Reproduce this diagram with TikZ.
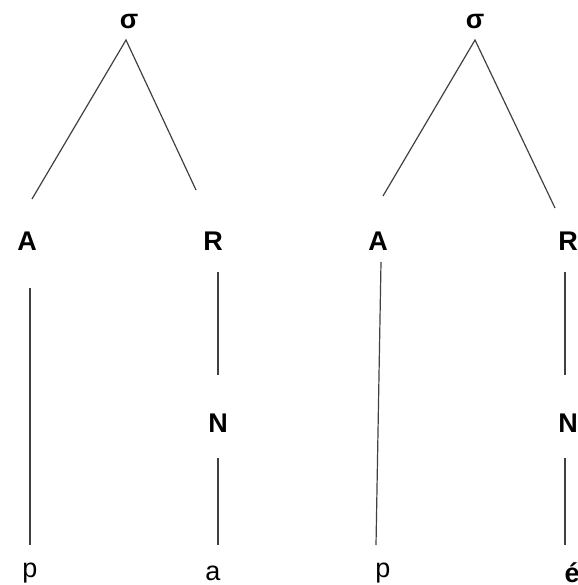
\documentclass[tikz,border=0pt]{standalone}
\usepackage{fontspec}
\setmainfont{Liberation Sans}
\begin{document}
\begin{tikzpicture}[x=1pt,y=-1pt,
  lab/.style={font=\fontsize{27}{30}\selectfont\bfseries, inner sep=0pt},
  leaf/.style={font=\fontsize{27}{30}\selectfont, inner sep=0pt},
  branch/.style={draw=black!75, line width=1.2pt}]
\useasboundingbox (0,0) rectangle (577,585);
% left tree
\node[lab] (s1) at (129,22) {σ};
\node[lab] (A1) at (27,241) {A};
\node[lab] (R1) at (213,241) {R};
\node[lab] (N1) at (218,423) {N};
\node[leaf] (p1) at (30,573) {p};
\node[leaf] (a1) at (213,573) {a};
% right tree
\node[lab] (s2) at (475,22) {σ};
\node[lab] (A2) at (378,241) {A};
\node[lab] (R2) at (568,241) {R};
\node[lab] (N2) at (568,423) {N};
\node[leaf] (p2) at (383,573) {p};
\node[lab] (e2) at (572,573) {é};
% coordinates
\coordinate (t1) at (126,40);
\coordinate (t1a) at (32,199);
\coordinate (t1r) at (196,190);
\coordinate (A1t) at (30,288);
\coordinate (A1b) at (30,545);
\coordinate (R1t) at (218,272);
\coordinate (R1b) at (218,375);
\coordinate (N1t) at (218,458);
\coordinate (N1b) at (218,545);
\coordinate (t2) at (475,40);
\coordinate (t2a) at (383,196);
\coordinate (t2r) at (555,208);
\coordinate (A2t) at (381,262);
\coordinate (A2b) at (376,545);
\coordinate (R2t) at (565,272);
\coordinate (R2b) at (565,375);
\coordinate (N2t) at (565,458);
\coordinate (N2b) at (565,545);
\draw[branch] (t1a) -- (t1) -- (t1r);
\draw[branch] (A1t) -- (A1b);
\draw[branch] (R1t) -- (R1b);
\draw[branch] (N1t) -- (N1b);
\draw[branch] (t2a) -- (t2) -- (t2r);
\draw[branch] (A2t) -- (A2b);
\draw[branch] (R2t) -- (R2b);
\draw[branch] (N2t) -- (N2b);
\end{tikzpicture}
\end{document}
